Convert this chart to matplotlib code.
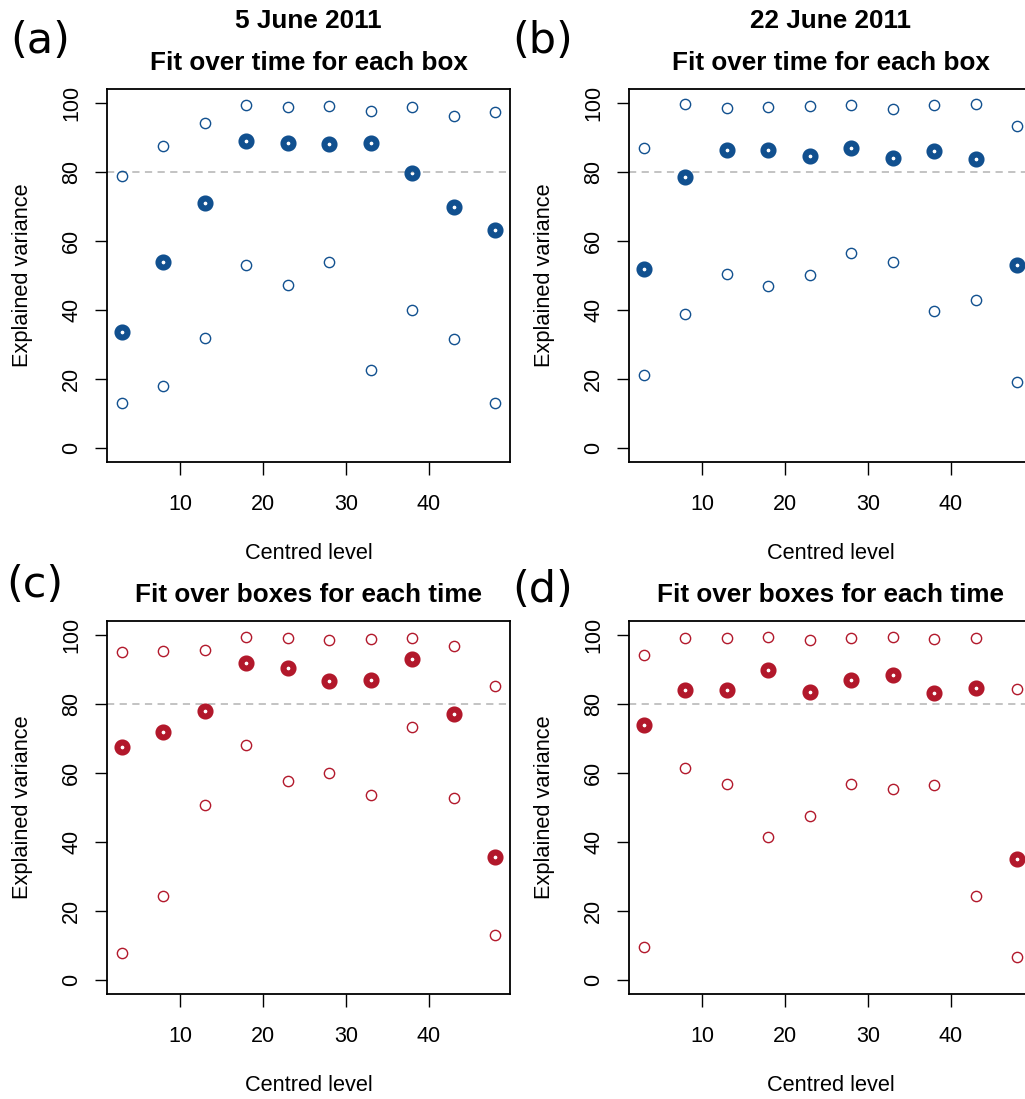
import matplotlib
matplotlib.use("Agg")
import matplotlib.pyplot as plt

levels = [3, 8, 13, 18, 23, 28, 33, 38, 43, 48]

# (a) 5 June 2011, fit over time for each box
a_high = [78.8, 87.6, 94.1, 99.3, 98.8, 99.2, 97.7, 98.9, 96.3, 97.4]
a_mid = [33.5, 54.0, 70.9, 88.8, 88.5, 88.0, 88.3, 79.8, 69.8, 63.1]
a_low = [13.1, 18.1, 31.9, 53.0, 47.2, 54.0, 22.7, 40.0, 31.5, 13.0]

# (b) 22 June 2011, fit over time for each box
b_high = [86.8, 99.7, 98.5, 98.7, 99.0, 99.3, 98.2, 99.3, 99.6, 93.2]
b_mid = [52.0, 78.4, 86.2, 86.2, 84.5, 86.8, 84.1, 86.0, 83.8, 53.0]
b_low = [21.1, 38.9, 50.4, 47.1, 50.2, 56.4, 54.0, 39.8, 43.0, 19.1]

# (c) 5 June 2011, fit over boxes for each time
c_high = [95.0, 95.2, 95.6, 99.5, 99.2, 98.6, 98.8, 99.0, 96.7, 85.3]
c_mid = [67.6, 72.0, 77.8, 91.8, 90.5, 86.7, 86.9, 92.9, 77.1, 35.6]
c_low = [7.9, 24.3, 50.7, 68.2, 57.7, 60.1, 53.6, 73.4, 52.7, 13.2]

# (d) 22 June 2011, fit over boxes for each time
d_high = [94.1, 99.0, 99.0, 99.4, 98.6, 99.1, 99.4, 98.7, 99.2, 84.3]
d_mid = [73.8, 84.0, 84.0, 89.7, 83.4, 86.8, 88.3, 83.2, 84.7, 35.0]
d_low = [9.6, 61.4, 56.9, 41.6, 47.6, 56.8, 55.5, 56.4, 24.3, 6.6]

x_ticks = [10, 20, 30, 40]
y_ticks = [0, 20, 40, 60, 80, 100]
threshold = 80

BLUE = "#11508F"
RED = "#B2182B"

W, H = 1025, 1099
fig = plt.figure(figsize=(W / 100, H / 100), dpi=100)

AX_W = 403
AX_H = 373

def make_ax(left_px, top_px):
    return fig.add_axes([left_px / W, 1 - (top_px + AX_H) / H, AX_W / W, AX_H / H])

panels = [
    (make_ax(107, 89), a_high, a_mid, a_low, BLUE, "5 June 2011\nFit over time for each box", "(a)", (10, 41)),
    (make_ax(629, 89), b_high, b_mid, b_low, BLUE, "22 June 2011\nFit over time for each box", "(b)", (512, 41)),
    (make_ax(107, 621), c_high, c_mid, c_low, RED, "Fit over boxes for each time", "(c)", (6, 585)),
    (make_ax(629, 621), d_high, d_mid, d_low, RED, "Fit over boxes for each time", "(d)", (512, 590)),
]

for ax, hi, mid, lo, col, title, lab, (lx, ly) in panels:
    ax.axhline(threshold, color="#BEBEBE", lw=1.3, ls=(0, (4, 3)), zorder=1)
    ax.plot(levels, hi, ls="none", marker="o", ms=7.4, mfc="none", mec=col, mew=1.0, zorder=3)
    ax.plot(levels, lo, ls="none", marker="o", ms=7.4, mfc="none", mec=col, mew=1.0, zorder=3)
    ax.plot(levels, mid, ls="none", marker="o", ms=7.2, mfc="none", mec=col, mew=4.4, zorder=4)
    ax.set_xlim(1.2, 49.8)
    ax.set_ylim(-4, 104)
    ax.set_xticks(x_ticks)
    ax.set_yticks(y_ticks)
    ax.set_xticklabels([str(v) for v in x_ticks], fontsize=15.5, fontfamily="Liberation Sans")
    ax.set_yticklabels([str(v) for v in y_ticks], fontsize=15.5, fontfamily="Liberation Sans",
                       rotation=90, va="center")
    ax.tick_params(axis="both", direction="out", length=9, width=1.0, color="black")
    ax.tick_params(axis="x", pad=14)
    ax.tick_params(axis="y", pad=9)
    for s in ax.spines.values():
        s.set_linewidth(1.3)
    ax.set_xlabel("Centred level", fontsize=15.7, fontfamily="Liberation Sans", labelpad=20)
    ax.set_ylabel("Explained variance", fontsize=15.7, fontfamily="Liberation Sans", labelpad=20)
    ax.set_title(title, fontsize=18.8, fontweight="bold", fontfamily="Liberation Sans",
                 linespacing=1.95, pad=14)
    fig.text(lx / W, 1 - ly / H, lab, fontsize=31, fontfamily="DejaVu Sans",
             ha="left", va="center")

fig.savefig("out.png", dpi=100)
